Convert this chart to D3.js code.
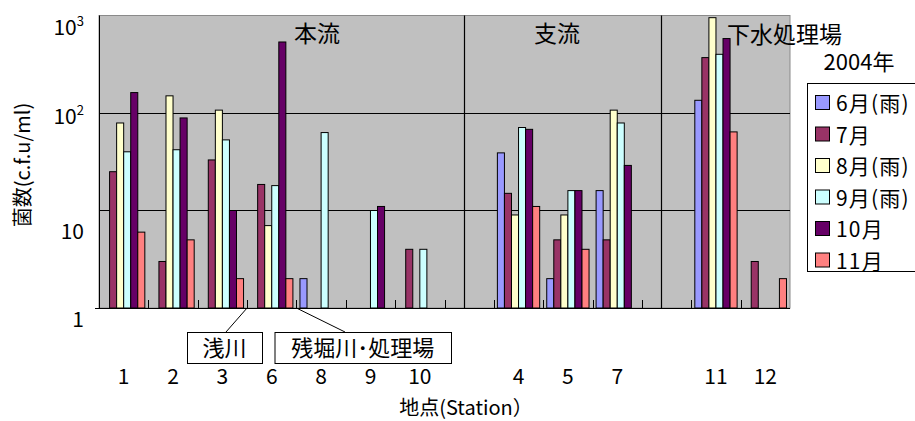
<!DOCTYPE html>
<html>
<head>
<meta charset="utf-8">
<script src="https://cdn.jsdelivr.net/npm/d3@7"></script>
<style>
  html, body { margin: 0; padding: 0; background: #fff; }
  svg { display: block; }
  text { font-family: "Noto Sans CJK JP", "Noto Sans", sans-serif; fill: #000; }
</style>
</head>
<body>
<svg id="chart" width="915" height="421"></svg>
<script>
// Stations along the x axis; empty strings are spacer slots between groups
const stations = ["1", "2", "3", "6", "8", "9", "10", "", "4", "5", "7", "", "11", "12"];

// Monthly colony counts (c.f.u/ml), null = not measured / not detected
const seriesNames = ["6月(雨)", "7月", "8月(雨)", "9月(雨)", "10月", "11月"];
const june  = [null, null, null, null, 2,    null, null, null, 39, 2,  16,   null, 135, null];
const july  = [25,   3,    33,   18.5, null, null, 4,    null, 15, 5,  5,    null, 370, 3];
const aug   = [79,   150,  107,  7,    null, null, null, null, 9,  9,  107,  null, 950, null];
const sept  = [40,   42,   53,   18,   63,   10,   4,    null, 71, 16, 79,   null, 400, null];
const oct   = [162,  89,   10,   535,  null, 11,   null, null, 68, 16, 29,   null, 580, null];
const nov   = [6,    5,    2,    2,    null, null, null, null, 11, 4,  null, null, 64,  2];
const seriesValues = [june, july, aug, sept, oct, nov];
const seriesColors = ["#9999FF", "#993366", "#FFFFCC", "#CCFFFF", "#660066", "#FF8080"];

const yTickValues = [1, 10, 100, 1000];
const yTickExp = ["", "", "2", "3"];
const groupTitles = ["本流", "支流", "下水処理場"];

const svg = d3.select("#chart");
const plot = { left: 99, right: 790, top: 15.5, bottom: 308 };

const x = d3.scaleBand()
  .domain(d3.range(stations.length))
  .range([plot.left, plot.right])
  .paddingInner(0).paddingOuter(0);

const y = d3.scaleLog()
  .domain([1, 1000])
  .range([plot.bottom, plot.top]);

// plot background
svg.append("rect")
  .attr("x", plot.left).attr("y", plot.top)
  .attr("width", plot.right - plot.left).attr("height", plot.bottom - plot.top)
  .attr("fill", "#C0C0C0").attr("stroke", "#8a8a8a").attr("stroke-width", 1);

// horizontal gridlines at decades
svg.append("g").selectAll("line")
  .data([10, 100])
  .join("line")
  .attr("x1", plot.left).attr("x2", plot.right)
  .attr("y1", d => Math.round(y(d)) + 0.5).attr("y2", d => Math.round(y(d)) + 0.5)
  .attr("stroke", "#000").attr("stroke-width", 1);

// group separators inside the spacer slots
const spacerIdx = stations.map((s, i) => s === "" ? i : -1).filter(i => i >= 0);
svg.append("g").selectAll("line")
  .data(spacerIdx)
  .join("line")
  .attr("x1", i => Math.round(x(i) + x.bandwidth() * 0.39) + 0.5)
  .attr("x2", i => Math.round(x(i) + x.bandwidth() * 0.39) + 0.5)
  .attr("y1", plot.top).attr("y2", plot.bottom)
  .attr("stroke", "#000").attr("stroke-width", 1.2);

// bars
const bw = x.bandwidth() / 7;
const barLayer = svg.append("g");
seriesValues.forEach((vals, si) => {
  barLayer.append("g").selectAll("rect")
    .data(vals.map((v, i) => ({ v, i })).filter(d => d.v != null))
    .join("rect")
    .attr("x", d => x(d.i) + bw / 2 + si * bw)
    .attr("y", d => y(d.v))
    .attr("width", bw)
    .attr("height", d => plot.bottom - y(d.v))
    .attr("fill", seriesColors[si])
    .attr("stroke", "#000").attr("stroke-width", 1);
});

// axes lines
svg.append("line")
  .attr("x1", plot.left + 0.5).attr("x2", plot.left + 0.5)
  .attr("y1", plot.top).attr("y2", plot.bottom + 0.5)
  .attr("stroke", "#000");
svg.append("line")
  .attr("x1", plot.left - 4).attr("x2", plot.right)
  .attr("y1", plot.bottom + 0.5).attr("y2", plot.bottom + 0.5)
  .attr("stroke", "#000");

// x tick marks at category boundaries (pointing inward)
svg.append("g").selectAll("line")
  .data(d3.range(1, stations.length))
  .join("line")
  .attr("x1", i => Math.round(x(i)) + 0.5).attr("x2", i => Math.round(x(i)) + 0.5)
  .attr("y1", plot.bottom).attr("y2", plot.bottom - 8)
  .attr("stroke", "#000");

// x tick labels
svg.append("g").selectAll("text")
  .data(stations.map((s, i) => ({ s, i })).filter(d => d.s !== ""))
  .join("text")
  .attr("x", d => x(d.i) + x.bandwidth() / 2)
  .attr("y", 384)
  .attr("text-anchor", "middle")
  .attr("font-size", 21)
  .text(d => d.s);

// y tick labels
const yLabelShift = [12, 21, 4, 12];
const yl = svg.append("g");
yTickValues.forEach((v, k) => {
  const t = yl.append("text")
    .attr("x", 84)
    .attr("y", y(v) + yLabelShift[k] + 7)
    .attr("text-anchor", "end")
    .attr("font-size", 21);
  t.append("tspan").text(v >= 100 ? "10" : String(v));
  if (yTickExp[k]) {
    t.append("tspan").attr("font-size", 13).attr("dy", -9).text(yTickExp[k]);
  }
});

// y axis title
svg.append("text")
  .attr("transform", "translate(30,165) rotate(-90)")
  .attr("text-anchor", "middle")
  .attr("font-size", 20)
  .text("菌数(c.f.u/ml)");

// x axis title
svg.append("text")
  .attr("x", 466).attr("y", 415)
  .attr("text-anchor", "middle")
  .attr("font-size", 20)
  .text("地点(Station）");

// group titles
svg.append("text").attr("x", 317).attr("y", 42).attr("text-anchor", "middle")
  .attr("font-size", 23).text(groupTitles[0]);
svg.append("text").attr("x", 557).attr("y", 42).attr("text-anchor", "middle")
  .attr("font-size", 23).text(groupTitles[1]);
svg.append("text").attr("x", 727).attr("y", 43).attr("text-anchor", "start")
  .attr("font-size", 23).text(groupTitles[2]);

// tributary callouts below the axis
const callouts = [
  { label: "浅川", from: 3, box: [187, 332, 75, 31], to: [226, 332] },
  { label: "残堀川･処理場", from: 4, box: [274.5, 332, 176.5, 31], to: [345, 332] }
];
callouts.forEach(c => {
  svg.append("line")
    .attr("x1", x(c.from)).attr("y1", plot.bottom)
    .attr("x2", c.to[0]).attr("y2", c.to[1])
    .attr("stroke", "#000");
  svg.append("rect")
    .attr("x", c.box[0] + 0.5).attr("y", c.box[1] + 0.5)
    .attr("width", c.box[2]).attr("height", c.box[3])
    .attr("fill", "#fff").attr("stroke", "#000");
  svg.append("text")
    .attr("x", c.box[0] + c.box[2] / 2).attr("y", c.box[1] + 24)
    .attr("text-anchor", "middle")
    .attr("font-size", 22)
    .text(c.label);
});

// legend
svg.append("text").attr("x", 859).attr("y", 70).attr("text-anchor", "middle")
  .attr("font-size", 22).text("2004年");
const lg = svg.append("g");
lg.append("rect")
  .attr("x", 807.5).attr("y", 83.5).attr("width", 130).attr("height", 188)
  .attr("fill", "#fff").attr("stroke", "#000");
seriesNames.forEach((name, i) => {
  const cy = 103 + i * 31.5;
  lg.append("rect")
    .attr("x", 815.5).attr("y", cy - 7.5).attr("width", 14).attr("height", 14)
    .attr("fill", seriesColors[i]).attr("stroke", "#000");
  lg.append("text")
    .attr("x", 836).attr("y", cy + 8)
    .attr("font-size", 21)
    .attr("letter-spacing", 1.2)
    .text(name);
});
</script>
</body>
</html>
